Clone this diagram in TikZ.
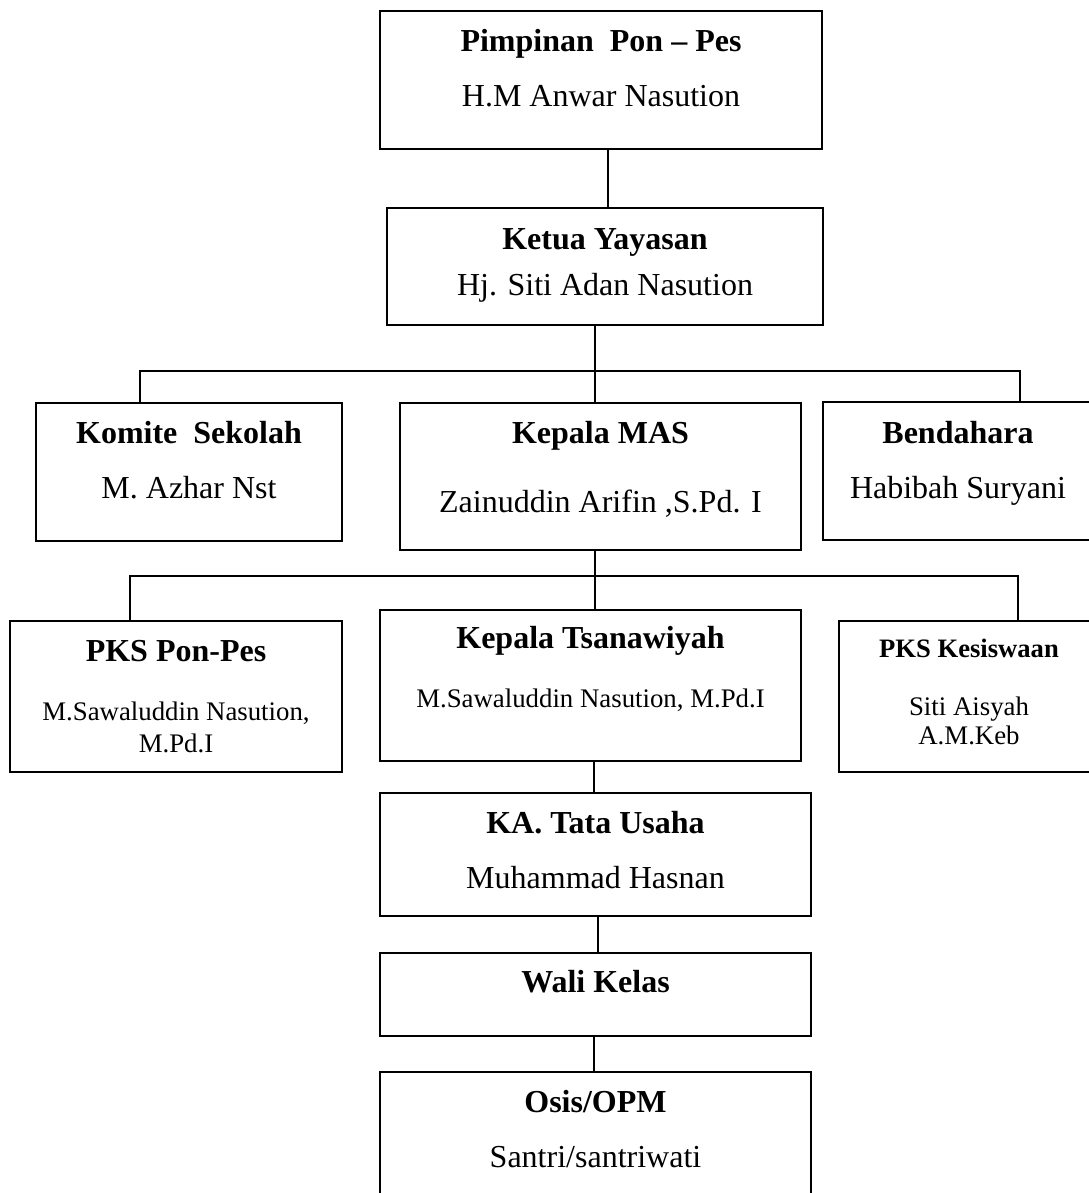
\documentclass[tikz,border=0pt]{standalone}
\usepackage{fontspec}
\setmainfont{Liberation Serif}
\begin{document}
\begin{tikzpicture}[x=1pt,y=-1pt,
  box/.style={draw=black,line width=1.9pt,rectangle,inner sep=0pt},
  conn/.style={draw=black,line width=1.6pt},
  big/.style={anchor=base,inner sep=0pt,font=\fontsize{32}{36}\selectfont},
  bigb/.style={anchor=base,inner sep=0pt,font=\fontsize{32}{36}\selectfont\bfseries},
  small/.style={anchor=base,inner sep=0pt,font=\fontsize{26.8}{30}\selectfont},
  smallb/.style={anchor=base,inner sep=0pt,font=\fontsize{26.6}{30}\selectfont\bfseries}]
\useasboundingbox (0,0) rectangle (1088,1193);
% boxes
\node[box,minimum width=442pt,minimum height=138pt] (pim) at (601,80) {};
\node[box,minimum width=436pt,minimum height=117pt] (ket) at (605,266.5) {};
\node[box,minimum width=306pt,minimum height=138pt] (kom) at (189,472) {};
\node[box,minimum width=401pt,minimum height=147pt] (mas) at (600.5,476.5) {};
\node[box,minimum width=270pt,minimum height=138pt] (ben) at (958,471) {};
\node[box,minimum width=332pt,minimum height=151pt] (pks) at (176,696.5) {};
\node[box,minimum width=421pt,minimum height=151pt] (tsa) at (590.5,685.5) {};
\node[box,minimum width=260pt,minimum height=151pt] (kes) at (969,696.5) {};
\node[box,minimum width=431pt,minimum height=123pt] (ka) at (595.5,854.5) {};
\node[box,minimum width=431pt,minimum height=83pt] (wali) at (595.5,994.5) {};
\node[box,minimum width=431pt,minimum height=138pt] (osis) at (595.5,1141) {};
% texts
\node[bigb] (pimA) at (601,52) {Pimpinan~ Pon – Pes};
\node[big] (pimB) at (601,107) {H.M Anwar Nasution};
\node[bigb] (ketA) at (605,249) {Ketua Yayasan};
\node[big] (ketB) at (605,295) {Hj. Siti Adan Nasution};
\node[bigb] (komA) at (189,443) {Komite~ Sekolah};
\node[big] (komB) at (189,498) {M. Azhar Nst};
\node[bigb] (masA) at (600.5,443) {Kepala MAS};
\node[big] (masB) at (600.5,512) {Zainuddin Arifin ,S.Pd. I};
\node[bigb] (benA) at (958,443) {Bendahara};
\node[big] (benB) at (958,498) {Habibah Suryani};
\node[bigb] (pksA) at (176,661) {PKS Pon-Pes};
\node[small] (pksB) at (176,720) {M.Sawaluddin Nasution,};
\node[small] (pksC) at (176,752) {M.Pd.I};
\node[bigb] (tsaA) at (590.5,648) {Kepala Tsanawiyah};
\node[small] (tsaB) at (590.5,707) {M.Sawaluddin Nasution, M.Pd.I};
\node[smallb] (kesA) at (969,657) {PKS Kesiswaan};
\node[small] (kesB) at (969,715) {Siti Aisyah};
\node[small] (kesC) at (969,744) {A.M.Keb};
\node[bigb] (kaA) at (595.5,833) {KA. Tata Usaha};
\node[big] (kaB) at (595.5,888) {Muhammad Hasnan};
\node[bigb] (waliA) at (595.5,992) {Wali Kelas};
\node[bigb] (osisA) at (595.5,1112) {Osis/OPM};
\node[big] (osisB) at (595.5,1167) {Santri/santriwati};
% connector guides
\coordinate (x1) at (608,0);
\coordinate (x2) at (595,0);
\coordinate (x3) at (594,0);
\coordinate (x4) at (598,0);
\coordinate (k1) at (140,371);
\coordinate (k2) at (1020,371);
\coordinate (m1) at (130,576);
\coordinate (m2) at (1018,576);
% connectors
\draw[conn] (pim.south -| x1) -- (ket.north -| x1);
\draw[conn] (ket.south -| x2) -- (mas.north -| x2);
\draw[conn] (kom.north -| k1) -- (k1) -- (k2) -- (ben.north -| k2);
\draw[conn] (mas.south -| x2) -- (tsa.north -| x2);
\draw[conn] (pks.north -| m1) -- (m1) -- (m2) -- (kes.north -| m2);
\draw[conn] (tsa.south -| x3) -- (ka.north -| x3);
\draw[conn] (ka.south -| x4) -- (wali.north -| x4);
\draw[conn] (wali.south -| x3) -- (osis.north -| x3);
\end{tikzpicture}
\end{document}
